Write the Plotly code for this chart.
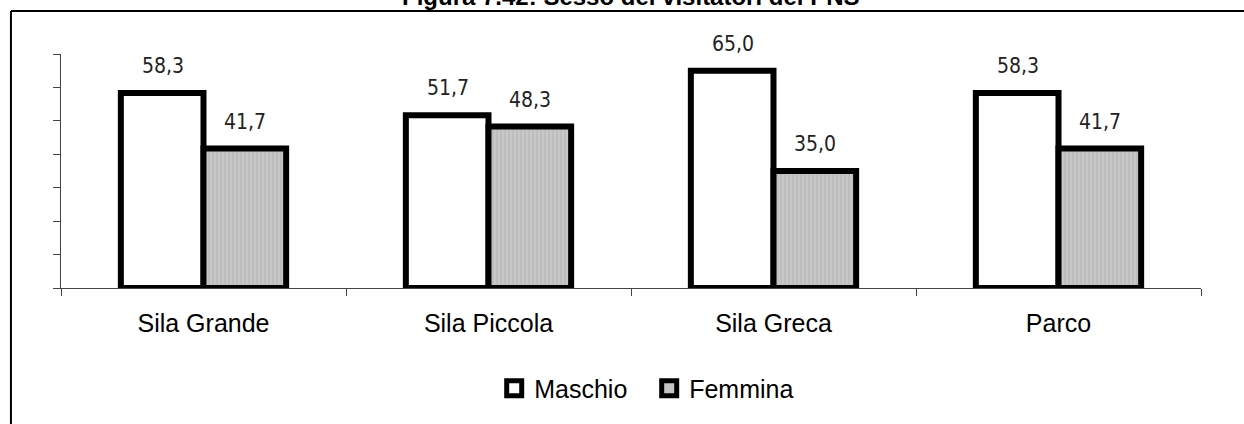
import plotly.graph_objects as go

categories = ["Sila Grande", "Sila Piccola", "Sila Greca", "Parco"]
maschio = [58.3, 51.7, 65.0, 58.3]
femmina = [41.7, 48.3, 35.0, 41.7]
series_names = ["Maschio", "Femmina"]
title_text = "Figura 7.42: Sesso dei visitatori del PNS"

def fmt(v):
    return f"{v:.1f}".replace(".", ",")

LABEL_FONT = dict(family="Liberation Sans Narrow, DejaVu Sans Condensed, Roboto Condensed, sans-serif",
                  size=21, color="#222")

fig = go.Figure()
fig.add_trace(go.Bar(
    x=categories, y=maschio, name=series_names[0], showlegend=False,
    marker=dict(color="white", line=dict(color="black", width=6)),
))
fig.add_trace(go.Bar(
    x=categories, y=femmina, name=series_names[1], showlegend=False,
    marker=dict(color="#c4c4c4", line=dict(color="black", width=6),
                pattern=dict(shape="|", fgcolor="#dcdcdc", bgcolor="#bdbdbd", size=4, solidity=0.35)),
))
# legend entries (no visible data point)
fig.add_trace(go.Scatter(
    x=[categories[0]], y=[None], mode="markers", name=series_names[0],
    marker=dict(symbol="square", size=15, color="white", line=dict(color="black", width=5)),
))
fig.add_trace(go.Scatter(
    x=[categories[0]], y=[None], mode="markers", name=series_names[1],
    marker=dict(symbol="square", size=15, color="#c4c4c4", line=dict(color="black", width=5)),
))

annotations = []
for i, c in enumerate(categories):
    annotations.append(dict(x=c, y=maschio[i], xref="x", yref="y", text=fmt(maschio[i]),
                            showarrow=False, xshift=-41, yshift=27, font=LABEL_FONT))
    annotations.append(dict(x=c, y=femmina[i], xref="x", yref="y", text=fmt(femmina[i]),
                            showarrow=False, xshift=41, yshift=27, font=LABEL_FONT))
annotations.append(dict(x=0.5, y=1.179, xref="paper", yref="paper", text="<b>" + title_text + "</b>",
                        showarrow=False, yanchor="bottom",
                        font=dict(family="Liberation Sans, Arial, sans-serif", size=24, color="black")))

fig.update_layout(
    width=1244, height=424,
    margin=dict(l=61, r=43, t=54, b=133),
    paper_bgcolor="white", plot_bgcolor="white",
    barmode="group", bargap=0.42, bargroupgap=0,
    font=dict(family="Liberation Sans, Arial, sans-serif", size=25, color="black"),
    showlegend=True,
    legend=dict(orientation="h", x=0.38, xanchor="left", y=-0.43, yanchor="middle",
                font=dict(size=25), itemwidth=30, entrywidth=110, tracegroupgap=0,
                itemsizing="trace"),
    annotations=annotations,
    shapes=[
        dict(type="line", xref="paper", yref="paper", x0=-0.0439, x1=1.1, y0=1.1835, y1=1.1835,
             line=dict(color="black", width=2)),
        dict(type="line", xref="paper", yref="paper", x0=-0.0439, x1=-0.0439, y0=1.1835, y1=-0.6,
             line=dict(color="black", width=2)),
    ],
)
fig.update_xaxes(showline=True, linecolor="#444", linewidth=1, ticks="outside", tickson="boundaries",
                 ticklen=7, tickcolor="#444", showgrid=False, tickfont=dict(size=25),
                 ticklabelstandoff=13)
fig.update_yaxes(range=[0, 70], dtick=10, showline=True, linecolor="#444", linewidth=1,
                 ticks="outside", ticklen=7, tickcolor="#444", showticklabels=False,
                 showgrid=False, zeroline=False)

fig.write_html("out.html", config={"displayModeBar": False},
               post_script="document.body.style.margin='0';document.body.style.overflow='hidden';")
